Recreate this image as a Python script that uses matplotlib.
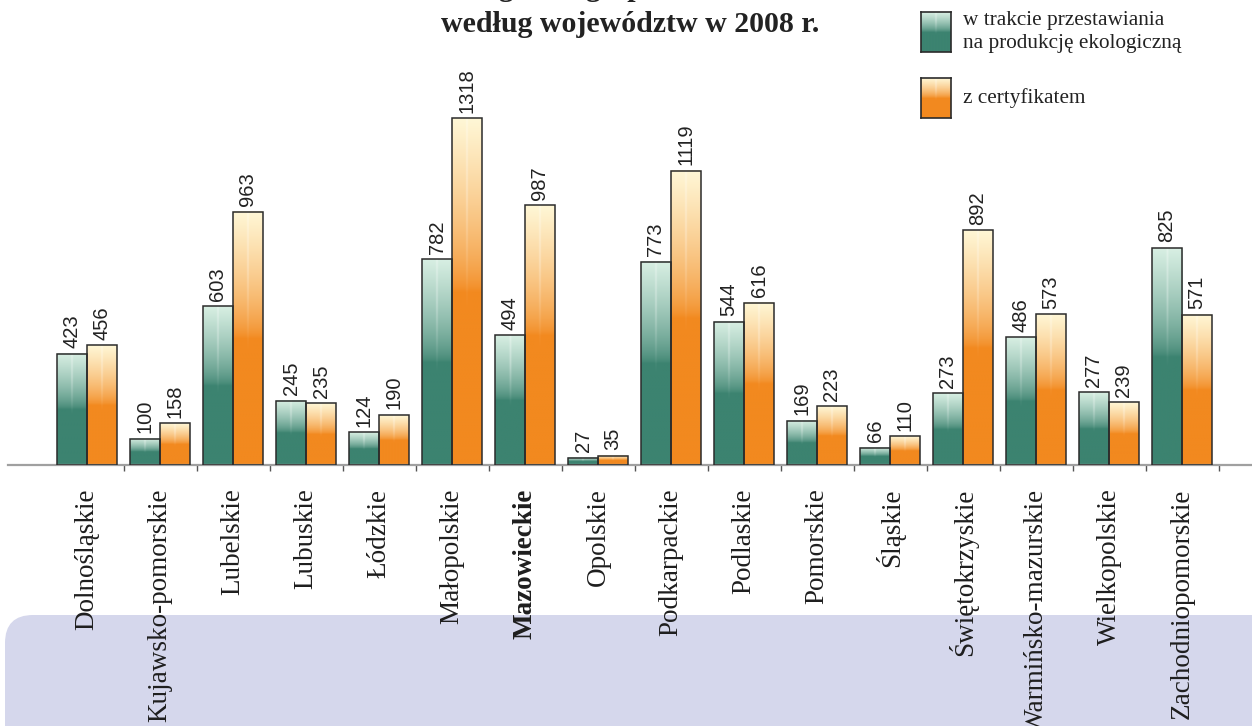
import numpy as np
import matplotlib
matplotlib.use("Agg")
import matplotlib.pyplot as plt
from matplotlib.patches import Rectangle, FancyBboxPatch
from matplotlib.transforms import IdentityTransform
from matplotlib.colors import to_rgb

# Liczba producentów ekologicznych według województw, 2008 r.
regions = ["Dolnośląskie", "Kujawsko-pomorskie", "Lubelskie", "Lubuskie", "Łódzkie",
           "Małopolskie", "Mazowieckie", "Opolskie", "Podkarpackie", "Podlaskie",
           "Pomorskie", "Śląskie", "Świętokrzyskie", "Warmińsko-mazurskie",
           "Wielkopolskie", "Zachodniopomorskie"]
in_conversion = [423, 100, 603, 245, 124, 782, 494, 27, 773, 544, 169, 66, 273, 486, 277, 825]
certified = [456, 158, 963, 235, 190, 1318, 987, 35, 1119, 616, 223, 110, 892, 573, 239, 571]
highlight = "Mazowieckie"

legend_labels = ["w trakcie przestawiania\nna produkcję ekologiczną", "z certyfikatem"]
title_lines = ["Ekologiczne gospodarstwa rolne", "według województw w 2008 r."]

GREEN_DARK, GREEN_LIGHT = "#3c8370", "#d8efe3"
ORANGE_DARK, ORANGE_LIGHT = "#f2891f", "#fff7d6"

W, H = 1252, 726
fig = plt.figure(figsize=(W / 100, H / 100), dpi=100)
fig.patch.set_facecolor("white")

# lavender panel behind the lower part of the labels
panel = FancyBboxPatch((5, -40), 1300, 40 + (H - 615),
                       boxstyle="round,pad=0,rounding_size=28",
                       transform=IdentityTransform(), facecolor="#d5d7ec",
                       edgecolor="none", zorder=-5)
fig.add_artist(panel)

# axes: baseline at y=465 px, group spacing 73 px, first group centre at 87 px
scale = 0.263      # px per unit
x_left = (8 - 87) / 73
x_right = (W - 87) / 73
base_px = 465
top_px = 60
ax = fig.add_axes([8 / W, (H - base_px) / H, 1 - 8 / W, (base_px - top_px) / H])
ax.set_zorder(1)
ax.patch.set_alpha(0)


def gradient_image(dark, light, n_y=200, n_x=40):
    d = np.array(to_rgb(dark))
    l = np.array(to_rgb(light))
    t = np.linspace(0, 1, n_y)[:, None]          # 0 bottom, 1 top
    u = np.linspace(-1, 1, n_x)[None, :]          # horizontal position
    # dark below the middle, fading to light towards the top
    start = 0.5
    f = np.clip((t - start) / (1 - start), 0, 1) ** 0.7
    f = np.broadcast_to(f, (n_y, n_x))
    img = d[None, None, :] * (1 - f[..., None]) + l[None, None, :] * f[..., None]
    # faint highlight along the centre line
    hl = np.exp(-(u / 0.06) ** 2) * np.clip((t - 0.45) * 3, 0, 1) * 0.35
    img = img * (1 - hl[..., None]) + hl[..., None]
    return np.clip(img, 0, 1)


img_green = gradient_image(GREEN_DARK, GREEN_LIGHT)
img_orange = gradient_image(ORANGE_DARK, ORANGE_LIGHT)

bw = 30 / 73
x = np.arange(len(regions))
for series, img, offset in [(in_conversion, img_green, -bw / 2),
                            (certified, img_orange, bw / 2)]:
    for xi, v in zip(x, series):
        x0 = xi + offset - bw / 2
        ax.imshow(img, extent=(x0, x0 + bw, 0, v), origin="lower",
                  aspect="auto", interpolation="bilinear", zorder=2)
        ax.add_patch(Rectangle((x0, 0), bw, v, facecolor="none",
                               edgecolor="#2b2b2b", lw=1.1, zorder=3))
        ax.annotate(f"{v}", (xi + offset, v), xytext=(0, 4),
                    textcoords="offset points", rotation=90, ha="center",
                    va="bottom", fontsize=14.5, family="Liberation Sans",
                    color="#222222", zorder=4)

ax.set_xlim(x_left, x_right)
ax.set_ylim(0, (base_px - top_px) / scale)

for s in ["top", "right", "left"]:
    ax.spines[s].set_visible(False)
ax.spines["bottom"].set_color("#a0a0a0")
ax.spines["bottom"].set_linewidth(1.6)
ax.set_yticks([])
ax.set_xticks(x)
ax.set_xticklabels(regions, rotation=90, family="Liberation Serif",
                   fontsize=19.5, color="#1e1e1e", va="top", ha="center")
for lab in ax.get_xticklabels():
    if lab.get_text() == highlight:
        lab.set_fontweight("bold")
ax.tick_params(axis="x", which="major", length=0, pad=17)
ax.set_xticks(np.arange(len(regions)) + 0.5, minor=True)
ax.tick_params(axis="x", which="minor", length=4, width=1, color="#555555",
               direction="out")

# title (first line runs off the top edge)
fig.text(630 / W, 1 + 12 / H, title_lines[0], ha="center", va="center",
         family="Liberation Serif", fontweight="bold", fontsize=21.5, color="#222222")
fig.text(630 / W, 1 - 25 / H, title_lines[1], ha="center", va="center",
         family="Liberation Serif", fontweight="bold", fontsize=21.5, color="#222222")

# legend
for (y_top, img), label, ty in zip([(12, img_green), (78, img_orange)],
                                   legend_labels, [32, 98]):
    lax = fig.add_axes([921 / W, 1 - (y_top + 40) / H, 30 / W, 40 / H])
    lax.imshow(img, extent=(0, 1, 0, 1), origin="lower", aspect="auto",
               interpolation="bilinear")
    lax.set_xticks([])
    lax.set_yticks([])
    for s in lax.spines.values():
        s.set_color("#2b2b2b")
        s.set_linewidth(1.2)
    fig.text(963 / W, 1 - ty / H, label, ha="left", va="center",
             family="Liberation Serif", fontsize=15.3, color="#222222",
             linespacing=1.25)

fig.savefig("out.png", dpi=100)
